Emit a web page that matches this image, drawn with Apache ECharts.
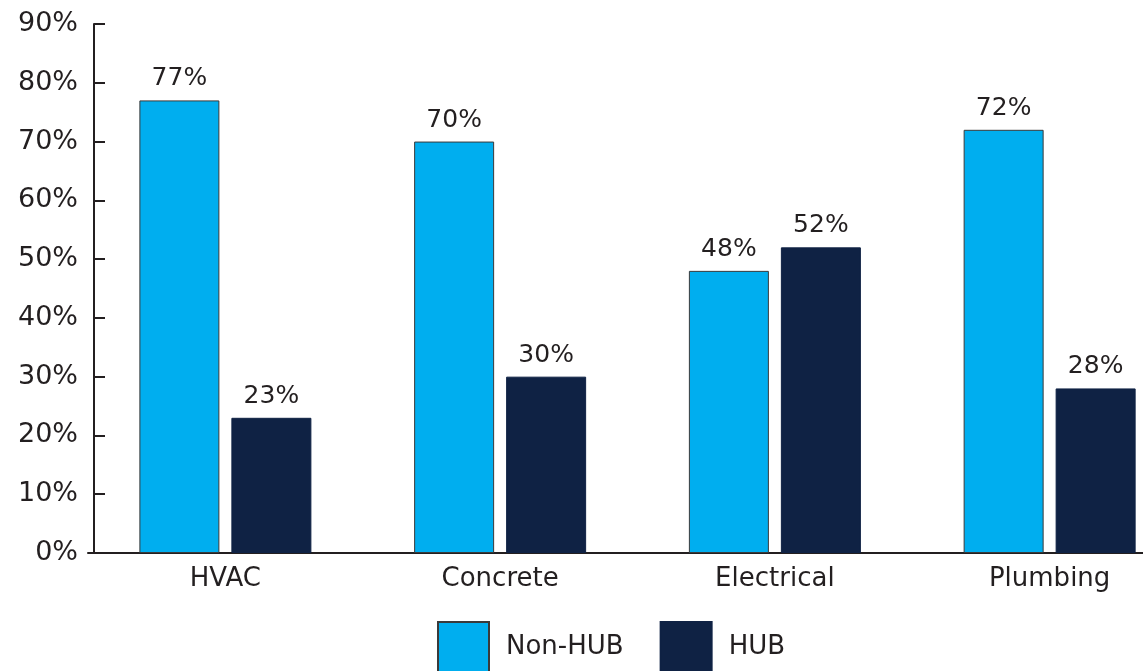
<!DOCTYPE html>
<html>
<head>
<meta charset="utf-8">
<style>
  html, body { margin: 0; padding: 0; background: #ffffff; }
  #chart { width: 1143px; height: 671px; }
</style>
<script src="https://cdn.jsdelivr.net/npm/echarts@6/dist/echarts.min.js"></script>
</head>
<body>
<div id="chart"></div>
<script>
// Share of work by trade: Non-HUB vs HUB firms (percent)
const categories = ['HVAC', 'Concrete', 'Electrical', 'Plumbing'];
const nonHub = [77, 70, 48, 72];
const hub = [23, 30, 52, 28];
const seriesNames = ['Non-HUB', 'HUB'];

const FONT = '"DejaVu Sans", "Noto Sans", sans-serif';
const TEXT = '#231f20';

const chart = echarts.init(document.getElementById('chart'), null, { renderer: 'canvas' });

const labelStyle = {
  show: true,
  position: 'top',
  distance: 9,
  formatter: p => p.value + '%',
  color: TEXT,
  fontFamily: FONT,
  fontSize: 25
};

chart.setOption({
  animation: false,
  textStyle: { fontFamily: FONT },
  grid: { left: 88, top: 24, width: 1099, height: 529, containLabel: false, outerBoundsMode: 'none' },
  legend: {
    top: 621,
    left: 437,
    padding: 0,
    itemWidth: 51,
    itemHeight: 50,
    itemGap: 36,
    icon: 'rect',
    textStyle: { color: TEXT, fontFamily: FONT, fontSize: 26, padding: [0, 0, 0, 12] },
    data: seriesNames
  },
  xAxis: {
    type: 'category',
    data: categories,
    axisLine: { lineStyle: { color: TEXT, width: 2 } },
    axisTick: { show: false },
    axisLabel: { color: TEXT, fontFamily: FONT, fontSize: 26, margin: 13 }
  },
  yAxis: {
    type: 'value',
    min: 0,
    max: 90,
    interval: 10,
    offset: -6,
    axisLine: { show: true, lineStyle: { color: TEXT, width: 2 } },
    axisTick: { show: true, inside: true, length: 11, lineStyle: { color: TEXT, width: 2 } },
    splitLine: { show: false },
    axisLabel: {
      formatter: '{value}%',
      color: TEXT,
      fontFamily: FONT,
      fontSize: 27,
      margin: 16
    }
  },
  series: [
    {
      name: seriesNames[0],
      type: 'bar',
      data: nonHub,
      barWidth: 80,
      barGap: '15%',
      itemStyle: { color: '#00aeef', borderColor: '#3a3a3a', borderWidth: 1 },
      label: labelStyle
    },
    {
      name: seriesNames[1],
      type: 'bar',
      data: hub,
      barWidth: 80,
      itemStyle: { color: '#0f2244', borderColor: '#0f2244', borderWidth: 1 },
      label: labelStyle
    }
  ]
});
</script>
</body>
</html>
